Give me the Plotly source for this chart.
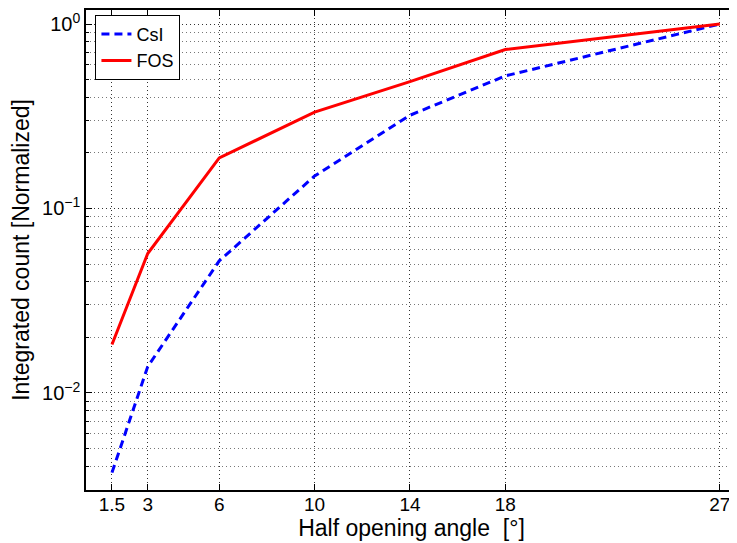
import plotly.graph_objects as go

angles = [1.5, 3, 6, 10, 14, 18, 27]
csi = [0.0037, 0.0139, 0.052, 0.150, 0.32, 0.523, 1.0]
fos = [0.0183, 0.057, 0.188, 0.333, 0.487, 0.727, 1.0]
x_ticks = [1.5, 3, 6, 10, 14, 18, 27]
x_tick_labels = ["1.5", "3", "6", "10", "14", "18", "27"]
y_ticks = [0.01, 0.1, 1]
y_tick_labels = ["10<sup>\u22122</sup>", "10<sup>\u22121</sup>", "10<sup>0</sup>"]
y_minor = [k * 10.0 ** d for d in (-3, -2, -1) for k in range(2, 10)]
y_minor = [v for v in y_minor if v >= 0.003]

font = "Liberation Sans, Arial, sans-serif"

fig = go.Figure()
fig.add_trace(go.Scatter(x=angles, y=csi, mode="lines", name="CsI",
                         line=dict(color="#0000ff", width=3, dash="8px,5px")))
fig.add_trace(go.Scatter(x=angles, y=fos, mode="lines", name="FOS",
                         line=dict(color="#ff0000", width=3)))

# page body has an 8px margin, so the figure is laid out 8px smaller/offset
fig.update_layout(
    width=729, height=535,
    margin=dict(l=78, r=0, t=2, b=53),
    paper_bgcolor="white", plot_bgcolor="white",
    font=dict(family=font, color="black", size=18),
    showlegend=True,
    legend=dict(x=0.0145, y=0.99, xanchor="left", yanchor="top",
                bgcolor="white", bordercolor="black", borderwidth=1,
                font=dict(size=18), tracegroupgap=0, itemwidth=30),
    xaxis=dict(
        range=[0.41, 27.72], tickmode="array", tickvals=x_ticks, ticktext=x_tick_labels,
        showline=True, linecolor="black", linewidth=1.5, mirror="ticks",
        ticks="inside", ticklen=6, tickcolor="black", tickwidth=1,
        showgrid=True, gridcolor="#333333", griddash="1px,3px", gridwidth=1,
        zeroline=False, tickfont=dict(size=19), automargin=True, ticklabelstandoff=-4,
        title=dict(text="Half opening angle  [\u00b0]", font=dict(size=23), standoff=2),
    ),
    yaxis=dict(
        type="log", range=[-2.526, 0.0759], tickmode="array", tickvals=y_ticks,
        ticktext=y_tick_labels,
        showline=True, linecolor="black", linewidth=1.5, mirror=False,
        ticks="inside", ticklen=6, tickcolor="black", tickwidth=1,
        showgrid=True, gridcolor="#333333", griddash="1px,3px", gridwidth=1,
        zeroline=False, tickfont=dict(size=20), automargin=True,
        minor=dict(tickmode="array", tickvals=y_minor, ticks="inside", ticklen=3,
                   tickcolor="black", showgrid=True, gridcolor="#777777",
                   griddash="1px,3px", gridwidth=1),
        title=dict(text="Integrated count [Normalized]", font=dict(size=23), standoff=8),
    ),
)

fig.write_html("out.html")
